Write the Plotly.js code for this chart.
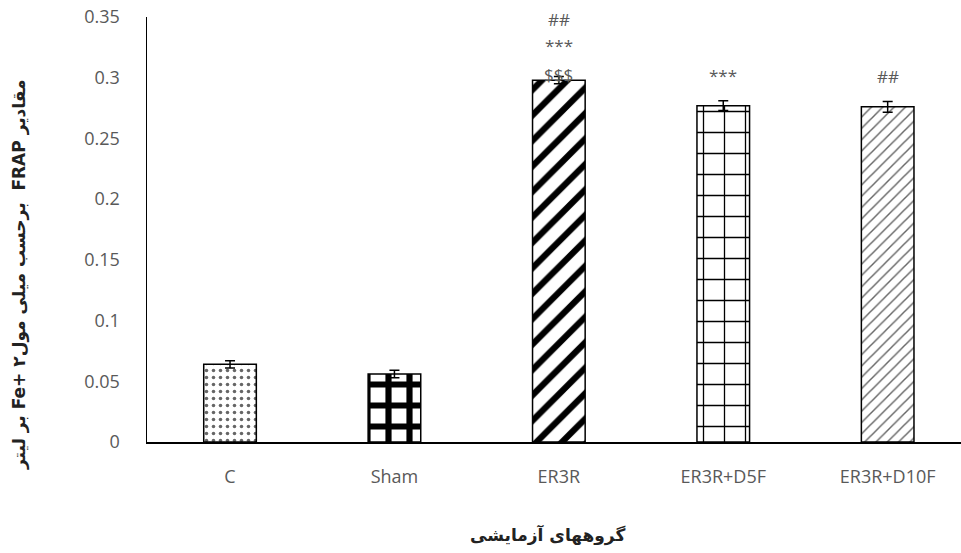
<!DOCTYPE html>
<html>
<head>
<meta charset="utf-8">
<script src="https://cdn.plot.ly/plotly-3.0.1.min.js"></script>
<style>html,body{margin:0;padding:0;background:#fff;}#chart{width:961px;height:553px;}</style>
</head>
<body>
<div id="chart"></div>
<script>
const categories = ["C", "Sham", "ER3R", "ER3R+D5F", "ER3R+D10F"];
const values = [0.064, 0.056, 0.298, 0.277, 0.276];
const errors = [0.003, 0.003, 0.003, 0.004, 0.0045];
const tickVals = [0, 0.05, 0.1, 0.15, 0.2, 0.25, 0.3, 0.35];
const tickText = ["0", "0.05", "0.1", "0.15", "0.2", "0.25", "0.3", "0.35"];
// significance marks per category, bottom-to-top
const sigMarks = [[], [], ["$$$", "***", "##"], ["***"], ["##"]];
const xTitle = "گروههای آزمایشی";
const yTitle = "\u202Bمقادیر FRAP  برحسب میلی مول۲ +Fe بر لیتر\u202C";

const patterns = [
  {shape: ".", fgcolor: "#666", bgcolor: "#fff", size: 7, solidity: 0.2},
  {shape: "+", fgcolor: "#000", bgcolor: "#fff", size: 21, solidity: 0.5},
  {shape: "/", fgcolor: "#000", bgcolor: "#fff", size: 18, solidity: 0.35},
  {shape: "+", fgcolor: "#000", bgcolor: "#fff", size: 21, solidity: 0.12},
  {shape: "/", fgcolor: "#666", bgcolor: "#fff", size: 8, solidity: 0.18}
];

const traces = categories.map((c, i) => ({
  type: "bar",
  x: [c],
  y: [values[i]],
  width: 0.32,
  marker: {color: "#fff", line: {color: "#000", width: 1.5}, pattern: patterns[i]},
  error_y: {type: "data", array: [errors[i]], visible: true, color: "#000", thickness: 1.5, width: 5},
  showlegend: false,
  hoverinfo: "skip"
}));

const shiftsER = [6, 35, 61];
const annotations = [];
sigMarks.forEach((marks, i) => {
  marks.forEach((m, k) => {
    const shift = marks.length > 1 ? shiftsER[k] : 30;
    annotations.push({
      x: categories[i], y: values[i], xref: "x", yref: "y",
      text: m, showarrow: false, yanchor: "middle", yshift: shift,
      font: {family: "'Open Sans', sans-serif", size: 17, color: "#595959"}
    });
  });
});

const titleFont = {family: "'DejaVu Sans', sans-serif", size: 17, color: "#222", weight: "bold"};
annotations.push({
  xref: "paper", yref: "paper", x: 0.4926, y: -0.219,
  xanchor: "center", yanchor: "middle", showarrow: false,
  text: xTitle, font: titleFont
});
annotations.push({
  xref: "paper", yref: "paper", x: -0.156, y: 0.393,
  xanchor: "center", yanchor: "middle", showarrow: false, textangle: -90,
  text: yTitle, font: titleFont
});

const tickFont = {family: "'Open Sans', sans-serif", size: 18, color: "#595959"};

const layout = {
  width: 961, height: 553,
  margin: {l: 147, r: 0, t: 17, b: 111},
  paper_bgcolor: "#fff", plot_bgcolor: "#fff",
  xaxis: {
    type: "category",
    range: [-0.505, 4.446],
    showline: true, linecolor: "#000", linewidth: 1.5,
    showgrid: false, zeroline: false, ticks: "",
    ticklabelstandoff: 18,
    tickfont: tickFont
  },
  yaxis: {
    range: [0, 0.35],
    tickvals: tickVals, ticktext: tickText,
    showline: true, linecolor: "#000", linewidth: 1.5,
    showgrid: false, zeroline: false, ticks: "",
    ticklabelstandoff: 22,
    tickfont: tickFont
  },
  annotations: annotations
};

Plotly.newPlot("chart", traces, layout, {displayModeBar: false, staticPlot: true});
</script>
</body>
</html>
